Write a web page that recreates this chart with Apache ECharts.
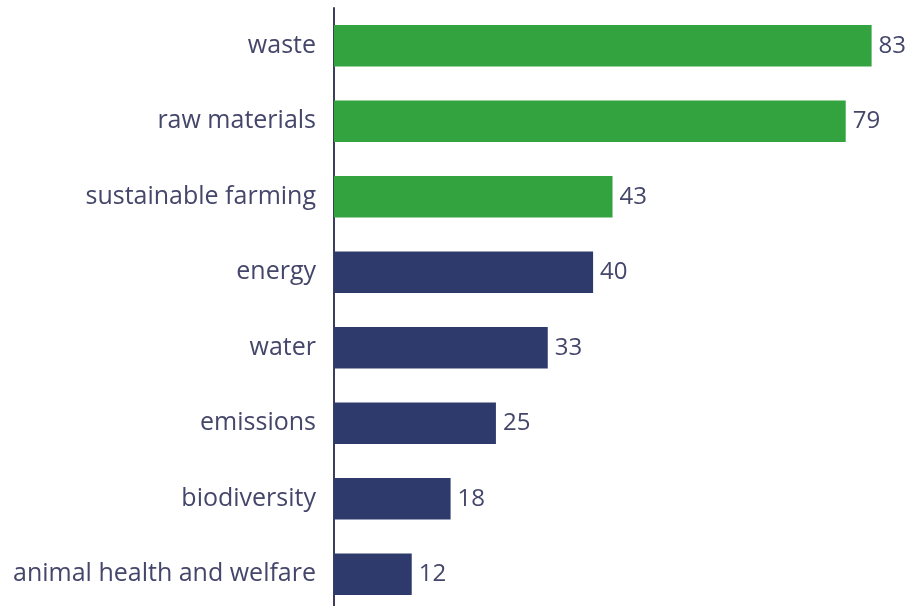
<!DOCTYPE html>
<html><head><meta charset="utf-8">
<script src="https://cdn.jsdelivr.net/npm/echarts@6/dist/echarts.min.js"></script>
<style>html,body{margin:0;padding:0;background:#fff;overflow:hidden}#c{width:909px;height:612px}</style>
</head><body><div id="c"></div>
<script>
const categories = ["waste","raw materials","sustainable farming","energy","water","emissions","biodiversity","animal health and welfare"];
const values = [83,79,43,40,33,25,18,12];
const highlighted = [true,true,true,false,false,false,false,false];
const GREEN = "#33a33f", NAVY = "#2d3a6b", TXT = "#44466a";
const chart = echarts.init(document.getElementById('c'), null, {renderer:'canvas'});
chart.setOption({
  animation:false,
  grid:{left:334, top:8, right:5, bottom:0, containLabel:false},
  xAxis:{type:'value', min:0, max:88, show:false},
  yAxis:{type:'category', data:categories, inverse:true,
    axisLine:{show:true, lineStyle:{color:'#3d3d5c', width:2}},
    axisTick:{show:false},
    axisLabel:{color:TXT, fontSize:25, fontFamily:'Open Sans', margin:18}},
  series:[{type:'bar', barWidth:'55%',
    data: values.map((v,i)=>({value:v, itemStyle:{color: highlighted[i]?GREEN:NAVY}})),
    label:{show:true, position:'right', distance:7, color:TXT, fontSize:24, fontFamily:'Open Sans'}}]
});
</script></body></html>
